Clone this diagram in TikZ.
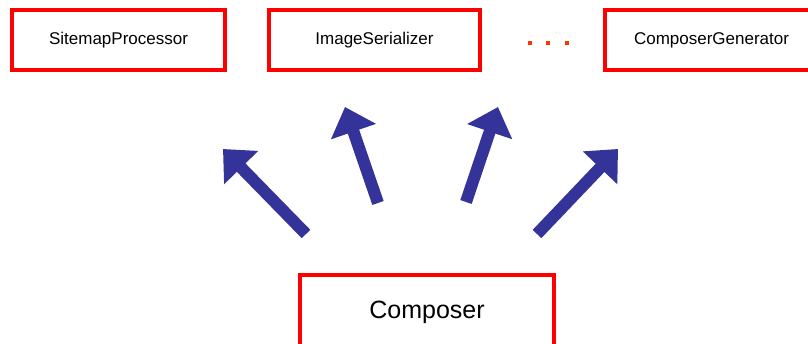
\documentclass[tikz,border=0pt]{standalone}
\usepackage{fontspec}
\setmainfont{Liberation Sans}
\usepackage{xcolor}
\usepackage{tikz}
\usetikzlibrary{arrows.meta,positioning}

\definecolor{boxred}{RGB}{255,0,0}
\definecolor{dotred}{RGB}{255,51,0}
\definecolor{arrowblue}{RGB}{51,51,153}

\begin{document}
\begin{tikzpicture}[x=1pt, y=-1pt,
  classbox/.style={draw=boxred, line width=4pt, rectangle, minimum height=60pt,
    inner sep=0pt, font=\fontsize{17}{20}\selectfont},
  fatarrow/.style={line width=12pt, arrowblue, -{Triangle[length=26pt,width=46pt]}}]

% Canvas
\useasboundingbox (0,0) rectangle (808,343);
\clip (0,0) rectangle (808,343);

% Draw the generated classes
\node[classbox, minimum width=213pt] (sitemap) at (118.5,40) {SitemapProcessor};
\node[classbox, minimum width=211pt] (imgser) at (374.5,40) {ImageSerializer};
\node[classbox, minimum width=213pt] (compgen) at (711.5,40) {ComposerGenerator};

% Dots between the boxes
\foreach \x in {530,548,567}
  \fill[dotred] (\x-2,41) rectangle (\x+2,45);

% Draw the composer
\node[classbox, minimum width=254pt, minimum height=74pt,
  font=\fontsize{25}{30}\selectfont] (composer) at (427,312) {Composer};

% Arrow ends
\coordinate (t1) at (306,234);
\coordinate (h1) at (223,149);
\coordinate (t2) at (378,203);
\coordinate (h2) at (345,107);
\coordinate (t3) at (466,202);
\coordinate (h3) at (498,107);
\coordinate (t4) at (537,234);
\coordinate (h4) at (618,149);

% Draw arrows
\foreach \i in {1,...,4}
  \draw[fatarrow] (t\i) -- (h\i);

\end{tikzpicture}
\end{document}
